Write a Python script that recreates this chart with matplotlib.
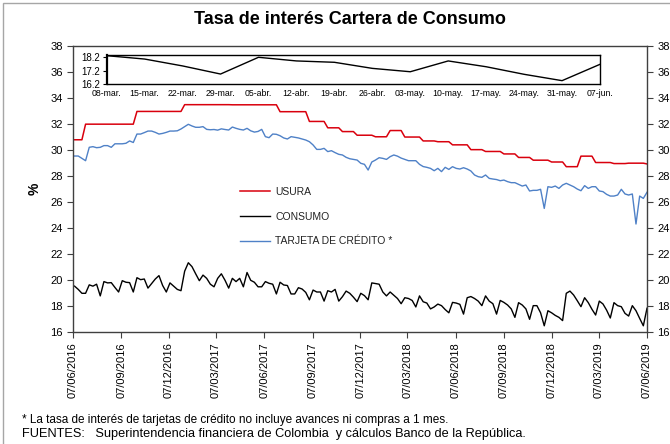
import matplotlib
matplotlib.use('Agg')
import matplotlib.pyplot as plt
import matplotlib.dates as mdates
import numpy as np
import pandas as pd
from matplotlib.patches import Rectangle

plt.rcParams['font.family'] = ['Liberation Sans', 'DejaVu Sans']

# --- datos ---------------------------------------------------------------
# tasa de usura mensual (consumo y ordinario)
usura_meses = ['2016-06', '2016-07', '2016-08', '2016-09', '2016-10', '2016-11',
               '2016-12', '2017-01', '2017-02', '2017-03', '2017-04', '2017-05',
               '2017-06', '2017-07', '2017-08', '2017-09', '2017-10', '2017-11',
               '2017-12', '2018-01', '2018-02', '2018-03', '2018-04', '2018-05',
               '2018-06', '2018-07', '2018-08', '2018-09', '2018-10', '2018-11',
               '2018-12', '2019-01', '2019-02', '2019-03', '2019-04', '2019-05',
               '2019-06']
usura_valores = [30.81, 32.01, 32.01, 32.01, 32.99, 32.99,
                 32.99, 33.51, 33.51, 33.51, 33.50, 33.50,
                 33.50, 32.97, 32.97, 32.22, 31.73, 31.44,
                 31.16, 31.04, 31.52, 31.02, 30.72, 30.66,
                 30.42, 30.05, 29.91, 29.72, 29.45, 29.24,
                 29.10, 28.74, 29.55, 29.06, 28.98, 29.01,
                 28.95]

# series semanales (viernes), 10/06/2016 - 07/06/2019
consumo = [19.55, 19.3, 19.0, 19.0, 19.65, 19.55, 19.7, 18.8, 19.9, 19.8,
           19.82, 19.45, 19.1, 19.97, 19.85, 19.82, 19.1, 20.2, 20.05, 20.1,
           19.4, 19.75, 20.1, 20.36, 19.6, 19.1, 19.8, 19.55, 19.3, 19.2,
           20.7, 21.35, 21.05, 20.5, 19.97, 20.4, 20.15, 19.7, 19.5, 20.15,
           20.5, 20.0, 19.4, 20.15, 19.9, 20.15, 19.5, 20.6, 20.0, 19.85,
           19.5, 19.5, 19.9, 19.77, 19.7, 18.95, 19.85, 19.64, 19.6, 18.95,
           18.95, 19.43, 19.33, 19.07, 18.5, 19.25, 19.1, 19.1, 18.4, 19.2,
           19.1, 19.3, 18.4, 18.74, 19.17, 19.0, 18.7, 18.36, 19.0, 18.82,
           18.5, 19.8, 19.75, 19.7, 19.1, 18.8, 19.1, 18.85, 18.6, 18.2,
           18.66, 18.6, 18.45, 17.95, 18.8, 18.35, 18.25, 17.8, 17.95, 18.17,
           18.05, 17.75, 17.5, 18.3, 18.25, 18.15, 17.4, 18.66, 18.75, 18.6,
           18.4, 18.05, 18.8, 18.4, 18.2, 17.4, 18.45, 18.3, 18.1, 17.8,
           17.15, 18.28, 18.1, 17.8, 17.0, 18.05, 18.05, 17.5, 16.5, 17.66,
           17.5, 17.3, 17.15, 16.9, 19.0, 19.17, 18.87, 18.43, 17.97, 18.66,
           18.28, 17.77, 17.33, 18.4, 18.18, 17.7, 17.1, 18.28, 18.05, 17.97,
           17.46, 17.25, 18.05, 17.66, 17.07, 16.5, 17.85]

tarjeta = [29.56, 29.56, 29.38, 29.2, 30.23, 30.28, 30.2, 30.23, 30.36, 30.36,
           30.23, 30.5, 30.5, 30.5, 30.54, 30.72, 30.6, 31.25, 31.25, 31.36,
           31.48, 31.48, 31.38, 31.25, 31.3, 31.38, 31.48, 31.48, 31.5, 31.64,
           31.82, 32.0, 31.87, 31.77, 31.77, 31.82, 31.61, 31.58, 31.6, 31.55,
           31.65, 31.6, 31.56, 31.79, 31.69, 31.61, 31.56, 31.69, 31.5, 31.4,
           31.45, 31.61, 31.05, 30.97, 31.25, 31.23, 31.12, 30.95, 30.87, 31.05,
           31.0, 30.95, 30.87, 30.79, 30.66, 30.41, 30.07, 30.07, 30.15, 29.9,
           29.97, 29.82, 29.69, 29.64, 29.46, 29.35, 29.3, 29.25, 29.0, 28.92,
           28.48, 29.1, 29.25, 29.43, 29.38, 29.3, 29.51, 29.64, 29.55, 29.4,
           29.3, 29.2, 29.2, 29.2, 28.92, 28.75, 28.69, 28.61, 28.43, 28.61,
           28.36, 28.69, 28.53, 28.74, 28.61, 28.56, 28.66, 28.56, 28.41, 28.1,
           27.97, 27.92, 28.1, 27.84, 27.79, 27.75, 27.66, 27.71, 27.59, 27.51,
           27.51, 27.38, 27.25, 27.33, 26.87, 26.92, 26.92, 27.0, 25.53, 27.2,
           27.15, 27.25, 27.07, 27.33, 27.46, 27.33, 27.2, 27.02, 26.89, 27.28,
           27.07, 27.2, 27.2, 26.87, 26.82, 26.61, 26.48, 26.48, 26.56, 27.0,
           26.64, 26.56, 26.64, 24.33, 26.48, 26.3, 26.77]

# recuadro: consumo últimas semanas
inset_fechas = ['2019-03-08', '2019-03-15', '2019-03-22', '2019-03-29', '2019-04-05',
                '2019-04-12', '2019-04-19', '2019-04-26', '2019-05-03', '2019-05-10',
                '2019-05-17', '2019-05-24', '2019-05-31', '2019-06-07']
inset_etiquetas = ['08-mar.', '15-mar.', '22-mar.', '29-mar.', '05-abr.', '12-abr.',
                   '19-abr.', '26-abr.', '03-may.', '10-may.', '17-may.', '24-may.',
                   '31-may.', '07-jun.']
inset_consumo = [18.32, 18.07, 17.56, 16.96, 18.2, 17.93, 17.83,
                 17.38, 17.13, 17.93, 17.5, 16.94, 16.47, 17.68]

# --- preparación ---------------------------------------------------------
fechas = pd.date_range('2016-06-10', '2019-06-07', freq='W-FRI')
tabla_usura = pd.Series(usura_valores, index=pd.PeriodIndex(usura_meses, freq='M'))
usura = tabla_usura.reindex(fechas.to_period('M')).values

rojo = '#d9000d'
azul = '#4f81c7'

fig = plt.figure(figsize=(6.7, 4.44), dpi=100)
fig.patches.append(Rectangle((3 / 670, -0.02), 1.0, 1 - 3 / 444 + 0.02,
                             transform=fig.transFigure, fill=False,
                             edgecolor='#a6a6a6', lw=1.0))

ax = fig.add_axes([73 / 670, 1 - 332.3 / 444, 574 / 670, 286 / 444])
ax.plot(fechas, usura, color=rojo, lw=1.1, label='USURA')
ax.plot(fechas, consumo, color='black', lw=1.0, label='CONSUMO')
ax.plot(fechas, tarjeta, color=azul, lw=1.0, label='TARJETA DE CRÉDITO *')

ax.set_ylim(16, 38)
ax.set_yticks(np.arange(16, 39, 2))
ax.set_xlim(pd.Timestamp('2016-06-07'), pd.Timestamp('2019-06-07'))
ticks_x = [pd.Timestamp('2016-06-07') + pd.DateOffset(months=3 * k) for k in range(13)]
ax.set_xticks(ticks_x)
ax.xaxis.set_major_formatter(mdates.DateFormatter('%d/%m/%Y'))
ax.tick_params(axis='x', labelrotation=90, labelsize=8, length=4, width=0.8,
               color='#404040', pad=3)
ax.tick_params(axis='y', labelsize=8, length=4, width=0.8, color='#404040',
               right=True, labelright=True)
for s in ax.spines.values():
    s.set_color('#404040')
    s.set_linewidth(1.0)

ax.set_ylabel('%', fontsize=10, fontweight='bold', labelpad=6)

ax.legend(loc='upper left', bbox_to_anchor=(0.291, 0.508), frameon=False,
          fontsize=7.5, handlelength=2.9, handletextpad=0.5, labelspacing=1.4,
          borderpad=0, borderaxespad=0, labelcolor='#222222')

fig.text(0.522, 1 - 20 / 444, 'Tasa de interés Cartera de Consumo', ha='center',
         va='center', fontsize=13, fontweight='bold')

# --- recuadro ------------------------------------------------------------
axin = fig.add_axes([106.7 / 670, 1 - 84.3 / 444, 493.3 / 670, 29.3 / 444])
axin.plot(pd.to_datetime(inset_fechas), inset_consumo, color='black', lw=1.0)
axin.set_xlim(pd.Timestamp(inset_fechas[0]), pd.Timestamp(inset_fechas[-1]))
axin.set_ylim(16.2, 18.37)
axin.set_yticks([16.2, 17.2, 18.2])
axin.set_yticklabels(['16.2', '17.2', '18.2'])
axin.set_xticks(pd.to_datetime(inset_fechas))
axin.set_xticklabels(inset_etiquetas)
axin.tick_params(axis='x', labelsize=6.3, length=0, pad=3.5)
axin.tick_params(axis='y', labelsize=7, length=3, width=0.8, pad=2)
for s in axin.spines.values():
    s.set_color('black')
    s.set_linewidth(1.0)
axin.spines['left'].set_linewidth(1.6)

# --- notas ---------------------------------------------------------------
fig.text(22 / 670, 1 - 420 / 444,
         '* La tasa de interés de tarjetas de crédito no incluye avances ni compras a 1 mes.',
         fontsize=8.5, va='center')
fig.text(22 / 670, 1 - 433.5 / 444,
         'FUENTES:   Superintendencia financiera de Colombia  y cálculos Banco de la República.',
         fontsize=9.2, va='center')

fig.savefig('out.png', dpi=100)
